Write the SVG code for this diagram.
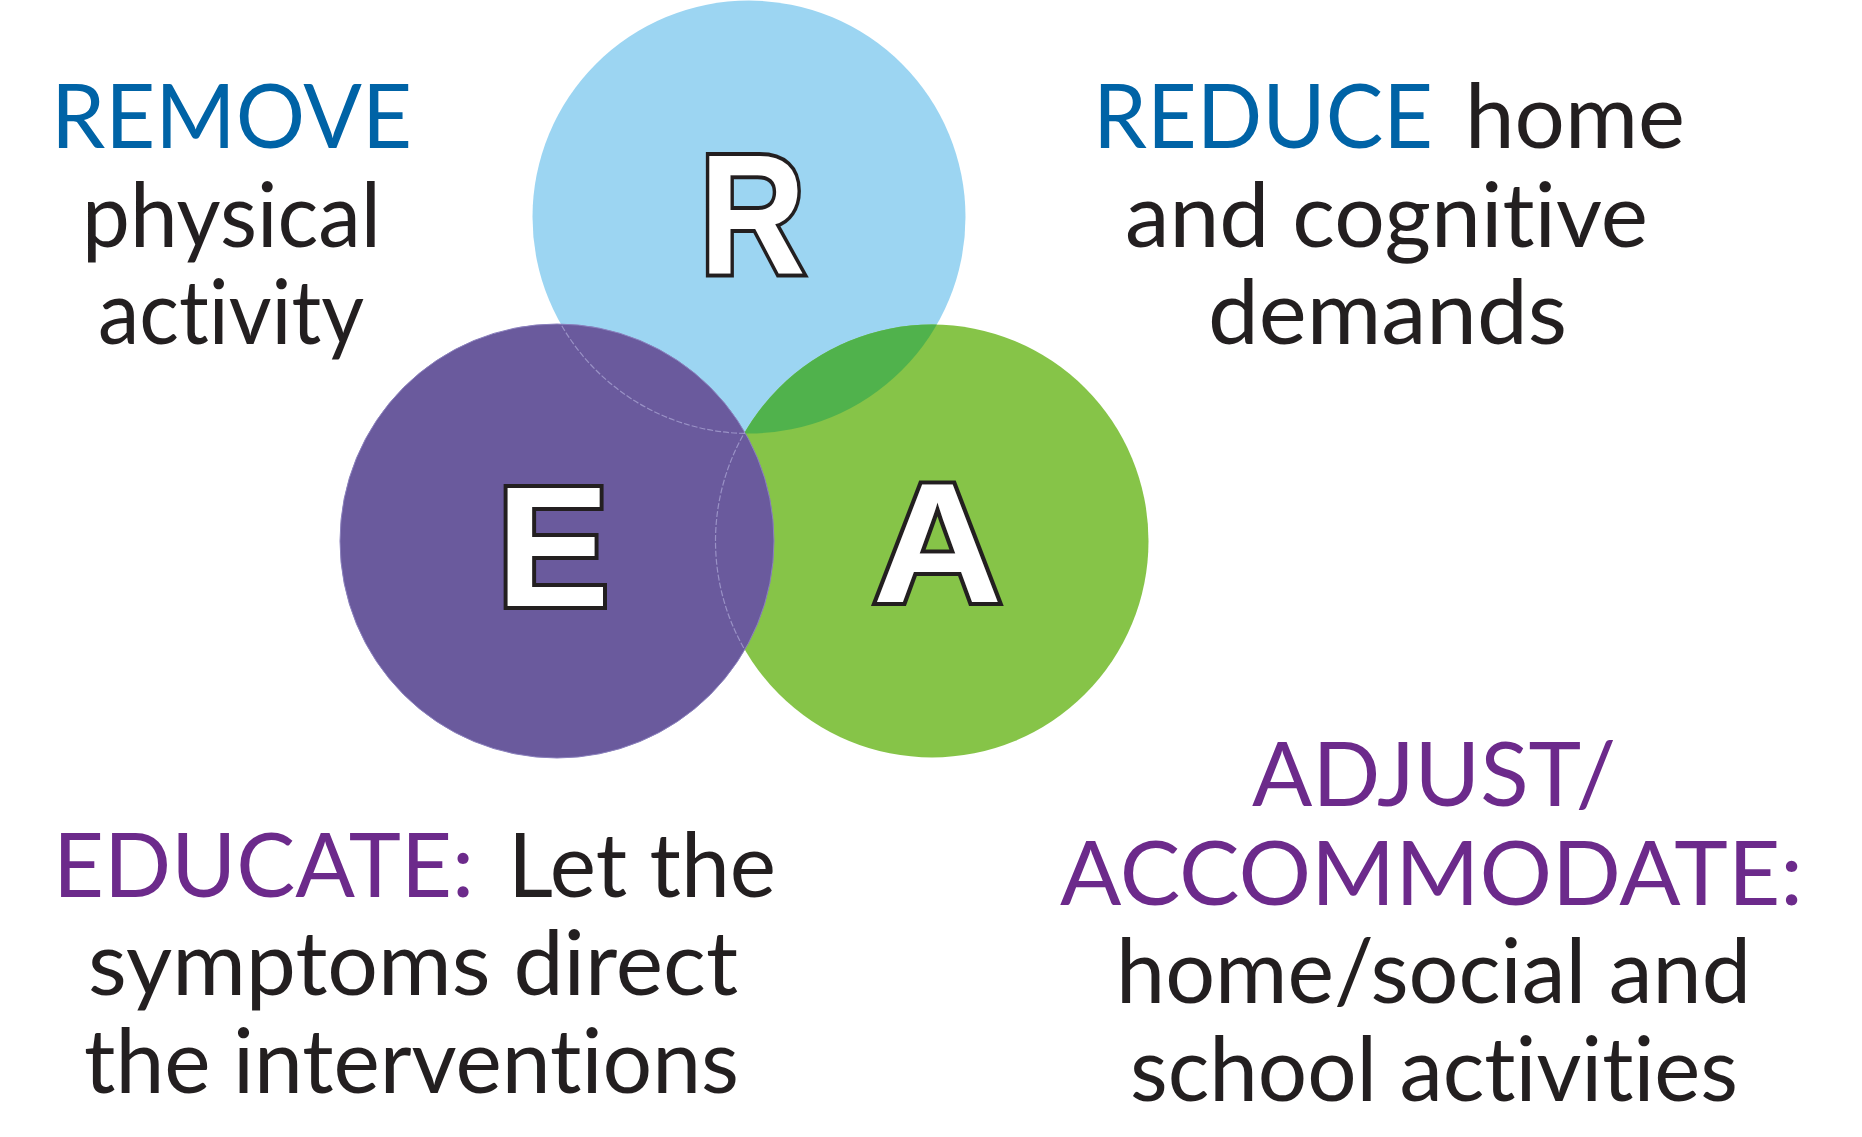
<svg xmlns="http://www.w3.org/2000/svg" width="1862" height="1137" viewBox="0 0 1862 1137">
<style>
.t{font-family:Lato,"Noto Sans","Liberation Sans",sans-serif;font-size:90px;fill:#231f20;font-variant-ligatures:none;font-feature-settings:"liga" 0,"clig" 0,"dlig" 0}
.blue{fill:#0063a6}
.purple{fill:#6c2a8b}
.big{font-family:"Liberation Sans",Arial,sans-serif;font-weight:bold;font-size:170px;fill:#fff;stroke:#231f20;stroke-width:8;paint-order:stroke;text-anchor:middle;stroke-linejoin:miter}
.faint{fill:none;stroke:#a59fd0;stroke-width:1.2;stroke-dasharray:6 2;opacity:.8}
</style>
<defs>
<clipPath id="clipR"><circle cx="749" cy="217" r="216.5"/></clipPath>
<clipPath id="clipE"><circle cx="557" cy="541" r="217"/></clipPath>
</defs>
<rect width="1862" height="1137" fill="#fff"/>
<g id="circle-R">
<circle cx="749" cy="217" r="216.5" fill="#9cd5f2"/>
</g>
<g id="circle-A">
<circle cx="932" cy="541" r="216.5" fill="#86c448"/>
<circle cx="932" cy="541" r="216.5" fill="#50b24c" clip-path="url(#clipR)"/>
</g>
<g id="circle-E">
<circle cx="557" cy="541" r="217" fill="#6a5a9d" stroke="#8a80bd" stroke-width="1"/>
<g clip-path="url(#clipE)">
<circle class="faint" cx="749" cy="217" r="216.5"/>
<circle class="faint" cx="932" cy="541" r="216.5"/>
</g>
</g>
<g id="letter-R"><text class="big" x="752.5" y="274" textLength="106" lengthAdjust="spacingAndGlyphs">R</text></g>
<g id="letter-E"><text class="big" x="553" y="605.5">E</text></g>
<g id="letter-A"><text class="big" x="937.5" y="601.5" textLength="130" lengthAdjust="spacingAndGlyphs">A</text></g>
<g id="text-remove">
<text class="t blue" x="51" y="148" textLength="361" lengthAdjust="spacingAndGlyphs">REMOVE</text>
<text class="t" x="82" y="246.5" textLength="299" lengthAdjust="spacingAndGlyphs">physical</text>
<text class="t" x="98" y="343.5" textLength="266" lengthAdjust="spacingAndGlyphs">activity</text>
</g>
<g id="text-reduce">
<text class="t blue" x="1093" y="148" textLength="340" lengthAdjust="spacingAndGlyphs">REDUCE</text>
<text class="t" x="1465" y="148" textLength="220" lengthAdjust="spacingAndGlyphs">home</text>
<text class="t" x="1125" y="246.5" textLength="523" lengthAdjust="spacingAndGlyphs">and cognitive</text>
<text class="t" x="1208" y="343.5" textLength="359" lengthAdjust="spacingAndGlyphs">demands</text>
</g>
<g id="text-educate">
<text class="t purple" x="53" y="896.5" textLength="421" lengthAdjust="spacingAndGlyphs">EDUCATE:</text>
<text class="t" x="508" y="896.5" textLength="268" lengthAdjust="spacingAndGlyphs">Let the</text>
<text class="t" x="88" y="995" textLength="650" lengthAdjust="spacingAndGlyphs">symptoms direct</text>
<text class="t" x="84" y="1092.5" textLength="655" lengthAdjust="spacingAndGlyphs">the interventions</text>
</g>
<g id="text-adjust">
<text class="t purple" x="1252" y="806" textLength="364" lengthAdjust="spacingAndGlyphs">ADJUST/</text>
<text class="t purple" x="1060" y="904.5" textLength="743" lengthAdjust="spacingAndGlyphs">ACCOMMODATE:</text>
<text class="t" x="1116" y="1003" textLength="635" lengthAdjust="spacingAndGlyphs">home/social and</text>
<text class="t" x="1130" y="1100.5" textLength="608" lengthAdjust="spacingAndGlyphs">school activities</text>
</g>
</svg>
